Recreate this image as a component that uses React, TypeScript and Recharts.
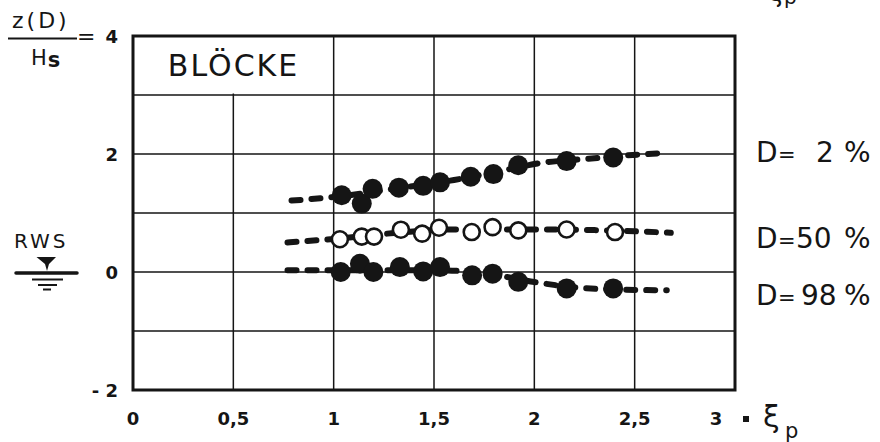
import React from 'react';
import { ComposedChart, Scatter, Line, XAxis, YAxis, CartesianGrid, ReferenceArea } from 'recharts';

const FONT = "'DejaVu Sans', 'Liberation Sans', Arial, sans-serif";
const INK = '#151515';

const xTicks = [0, 0.5, 1, 1.5, 2, 2.5, 3];
const yTicks = [-2, -1, 0, 1, 2, 3, 4];
const yLabelTicks = [-2, 0, 2, 4];

// D = 2 % (filled)
const xD2 = [1.04, 1.14, 1.194, 1.325, 1.446, 1.53, 1.683, 1.796, 1.92, 2.161, 2.393];
const yD2 = [1.3, 1.16, 1.41, 1.43, 1.46, 1.52, 1.615, 1.66, 1.81, 1.88, 1.94];
// D = 50 % (open)
const xD50 = [1.031, 1.14, 1.201, 1.335, 1.441, 1.525, 1.688, 1.792, 1.92, 2.161, 2.402];
const yD50 = [0.555, 0.6, 0.6, 0.717, 0.65, 0.75, 0.677, 0.76, 0.705, 0.72, 0.677];
// D = 98 % (filled)
const xD98 = [1.035, 1.131, 1.198, 1.33, 1.446, 1.53, 1.69, 1.792, 1.92, 2.161, 2.393];
const yD98 = [0, 0.138, 0, 0.083, 0.01, 0.083, -0.057, -0.028, -0.167, -0.278, -0.278];

// dashed trend curves
const tX2 = [0.79, 1.0, 1.3, 1.6, 1.9, 2.0, 2.27, 2.52, 2.66];
const tY2 = [1.21, 1.27, 1.41, 1.56, 1.76, 1.83, 1.92, 1.99, 2.02];
const tX50 = [0.77, 1.0, 1.3, 1.6, 2.0, 2.3, 2.5, 2.68];
const tY50 = [0.5, 0.56, 0.66, 0.72, 0.72, 0.71, 0.69, 0.665];
const tX98 = [0.77, 1.0, 1.5, 1.75, 2.0, 2.2, 2.45, 2.66];
const tY98 = [0.03, 0.03, 0.03, -0.02, -0.17, -0.26, -0.3, -0.31];

const zip = (xs: number[], ys: number[]) => xs.map((x, i) => ({ x, y: ys[i] }));

const d2 = zip(xD2, yD2);
const d50 = zip(xD50, yD50);
const d98 = zip(xD98, yD98);
const t2 = zip(tX2, tY2);
const t50 = zip(tX50, tY50);
const t98 = zip(tX98, tY98);

const filledDot = (p: any) => <circle cx={p.cx} cy={p.cy} r={10} fill={INK} />;
const openDot = (p: any) => (
  <circle cx={p.cx} cy={p.cy} r={8} fill="#fff" stroke={INK} strokeWidth={2.6} />
);

const XTick = (p: any) => {
  const v = p.payload.value;
  const label = String(v).replace('.', ',');
  if (v === 3) {
    return (
      <g>
        <text x={p.x - 19} y={425} textAnchor="middle" fontSize={18} fontWeight="bold" fontFamily={FONT} fill={INK}>3</text>
        <rect x={p.x + 8} y={416} width={6} height={6} fill={INK} />
        <text x={p.x + 28} y={427} fontSize={30} fontFamily={FONT} fill={INK}>ξ</text>
        <text x={p.x + 50} y={438} fontSize={21} fontFamily={FONT} fill={INK}>p</text>
      </g>
    );
  }
  return (
    <text x={p.x} y={425} textAnchor="middle" fontSize={18} fontWeight="bold" fontFamily={FONT} fill={INK}>{label}</text>
  );
};

const YTick = (p: any) => {
  const v = p.payload.value;
  if (!yLabelTicks.includes(v)) return <g />;
  return (
    <text x={118} y={p.y + 6.5} textAnchor="end" fontSize={18} fontWeight="bold" fontFamily={FONT} fill={INK}>
      {v < 0 ? '- ' + Math.abs(v) : String(v)}
    </text>
  );
};

const dashProps = {
  stroke: INK,
  strokeWidth: 6,
  strokeDasharray: '9 11',
  strokeLinecap: 'round' as const,
  dot: false,
  activeDot: false,
  isAnimationActive: false,
  type: 'monotone' as const,
  dataKey: 'y',
};

const RightLabel = ({ y, digits, dx }: { y: number; digits: string; dx: number }) => (
  <g fontFamily={FONT} fill={INK}>
    <text x={756} y={y} fontSize={28}>D</text>
    <text x={778} y={y} fontSize={21}>=</text>
    <text x={dx} y={y} fontSize={28}>{digits}</text>
    <text x={844} y={y} fontSize={28}>%</text>
  </g>
);

export default function App() {
  return (
    <div style={{ position: 'absolute', left: 0, top: 0, width: 880, height: 442, background: '#fff' }}>
      <ComposedChart width={880} height={442} margin={{ top: 36, right: 145, bottom: 22, left: 73 }}>
        <CartesianGrid stroke={INK} strokeWidth={1.5} />
        <XAxis
          type="number"
          dataKey="x"
          domain={[0, 3]}
          ticks={xTicks}
          interval={0}
          axisLine={false}
          tickLine={false}
          height={30}
          tick={<XTick />}
        />
        <YAxis
          type="number"
          dataKey="y"
          domain={[-2, 4]}
          ticks={yTicks}
          interval={0}
          axisLine={false}
          tickLine={false}
          width={60}
          tick={<YTick />}
        />
        <ReferenceArea
          x1={0.012}
          x2={0.99}
          y1={3.025}
          y2={3.985}
          fill="#fff"
          fillOpacity={1}
          stroke="none"
          label={(props: any) => {
            const vb = props.viewBox;
            return (
              <text
                x={vb.x + vb.width / 2}
                y={vb.y + vb.height / 2 + 11}
                textAnchor="middle"
                fontSize={30}
                letterSpacing={2}
                fontFamily={FONT}
                fill={INK}
              >
                BLÖCKE
              </text>
            );
          }}
        />
        <ReferenceArea x1={0} x2={3} y1={-2} y2={4} fill="none" stroke={INK} strokeWidth={3} />
        <Line data={t2} {...dashProps} />
        <Line data={t50} {...dashProps} />
        <Line data={t98} {...dashProps} />
        <Scatter data={d2} shape={filledDot} isAnimationActive={false} />
        <Scatter data={d50} shape={openDot} isAnimationActive={false} />
        <Scatter data={d98} shape={filledDot} isAnimationActive={false} />
      </ComposedChart>
      <svg
        width={880}
        height={442}
        style={{ position: 'absolute', left: 0, top: 0, pointerEvents: 'none', overflow: 'hidden' }}
      >
        {/* y axis label z(D)/Hs = */}
        <text x={12} y={28} fontSize={22} letterSpacing={3} fontFamily={FONT} fill={INK}>z(D)</text>
        <line x1={8} y1={38.5} x2={77} y2={38.5} stroke={INK} strokeWidth={2} />
        <text x={31} y={65} fontSize={21} fontFamily={FONT} fill={INK}>
          H<tspan dx={1} dy={2} fontWeight="bold">s</tspan>
        </text>
        <text x={77} y={44} fontSize={22} fontFamily={FONT} fill={INK}>=</text>
        {/* RWS water level */}
        <text x={14} y={248} fontSize={20} letterSpacing={3} fontFamily={FONT} fill={INK}>RWS</text>
        <polygon points="36.5,257 56,257 49,264 47,271 45,264" fill={INK} />
        <line x1={16} y1={273} x2={77} y2={273} stroke={INK} strokeWidth={3.5} strokeLinecap="round" />
        <line x1={32} y1={279.5} x2={63} y2={279.5} stroke={INK} strokeWidth={2} />
        <line x1={38} y1={285} x2={57} y2={285} stroke={INK} strokeWidth={2} />
        <line x1={43} y1={289.5} x2={51} y2={289.5} stroke={INK} strokeWidth={2} />
        {/* right labels */}
        <RightLabel y={161.5} digits="2" dx={816} />
        <RightLabel y={247.5} digits="50" dx={796} />
        <RightLabel y={305} digits="98" dx={801} />
        {/* fragment of the label of the chart above */}
        <text x={768} y={1} fontSize={26} fontFamily={FONT} fill={INK}>ξ</text>
        <text x={784} y={4} fontSize={20} fontFamily={FONT} fill={INK}>p</text>
      </svg>
    </div>
  );
}
